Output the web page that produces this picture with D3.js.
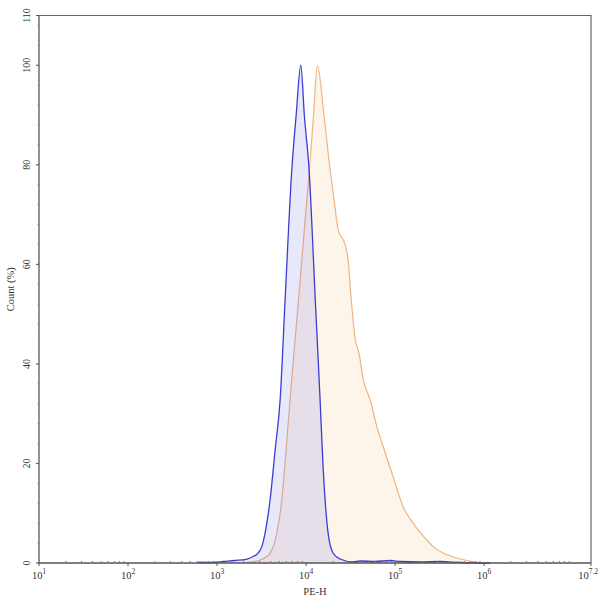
<!DOCTYPE html>
<html>
<head>
<meta charset="utf-8">
<script src="https://d3js.org/d3.v7.min.js"></script>
<style>
  body { margin: 0; background: #fff; }
  text { font-family: "Liberation Serif", "DejaVu Serif", serif; fill: #333; }
</style>
</head>
<body>
<svg id="chart"></svg>
<script>
  var width = 600, height = 602;
  var margin = {left: 39, right: 9, top: 15.5, bottom: 39};

  // PE-H intensity and count (%)
  var controlPE = [612, 733, 950, 1170, 1590, 2170, 2540, 2890, 3210, 3460, 3940, 4490, 5110, 5810,
    6910, 7720, 8720, 9570, 10800, 12680, 14360, 15520, 17670, 20100, 24100, 33700, 40500,
    59600, 87900, 114000, 191000, 321000, 538000, 1170000];
  var controlCount = [0.15, 0.1, 0.15, 0.3, 0.5, 0.8, 1.3, 2.0, 3.5, 6, 12.7, 22.7, 32.8, 52.9,
    79, 89.8, 100, 89.8, 79, 52.9, 32.8, 19.3, 6, 2, 0.8, 0.2, 0.4,
    0.3, 0.5, 0.3, 0.2, 0.3, 0.1, 0];

  var samplePE = [2160, 3040, 3940, 4690, 5340, 5960, 6610, 8220, 10200, 10900, 12100, 13400,
    15900, 18600, 20600, 22900, 27400, 29600, 32100, 35600, 39400, 43700, 52400, 62300, 73300,
    95000, 123000, 159000, 227000, 267000, 346000, 493000, 752000, 902000];
  var sampleCount = [0.1, 0.6, 2.0, 6, 12.7, 22.7, 32.8, 52.9, 73, 79, 89.8, 100,
    89.8, 79, 73, 67, 64, 61, 53, 45, 42, 37, 32.8, 27.4, 23.4,
    17.3, 11.3, 8.0, 4.6, 3.3, 2.0, 1.0, 0.26, 0];

  var yTicks = [0, 20, 40, 60, 80, 100, 110];
  var xExponents = ["1", "2", "3", "4", "5", "6", "7.2"];

  var svg = d3.select("#chart").attr("width", width).attr("height", height);

  var x = d3.scaleLog().domain([10, Math.pow(10, 7.2)]).range([margin.left, width - margin.right]);
  var y = d3.scaleLinear().domain([0, 110]).range([height - margin.bottom, margin.top]);

  var area = d3.area()
    .x(function(d) { return x(d[0]); })
    .y0(y(0))
    .y1(function(d) { return y(d[1]); })
    .curve(d3.curveMonotoneX);
  var line = d3.line()
    .x(function(d) { return x(d[0]); })
    .y(function(d) { return y(d[1]); })
    .curve(d3.curveMonotoneX);

  var sample = d3.zip(samplePE, sampleCount);
  var control = d3.zip(controlPE, controlCount);

  // sample (orange) underneath, control (blue) on top
  svg.append("path").datum(sample).attr("d", area).attr("fill", "#fdf4ea");
  svg.append("path").datum(sample).attr("d", line)
    .attr("fill", "none").attr("stroke", "#f0b482").attr("stroke-width", 1.2);

  svg.append("path").datum(control).attr("d", area).attr("fill", "rgba(90,90,230,0.14)");
  svg.append("path").datum(control).attr("d", line)
    .attr("fill", "none").attr("stroke", "#3c3cd0").attr("stroke-width", 1.3);

  // frame top/right
  svg.append("path")
    .attr("d", "M" + x.range()[0] + "," + y(110) + "H" + x.range()[1] + "V" + y(0))
    .attr("fill", "none").attr("stroke", "#666").attr("stroke-width", 1.2);

  // y axis
  var yAxis = svg.append("g");
  yAxis.append("line")
    .attr("x1", margin.left).attr("x2", margin.left)
    .attr("y1", y(110)).attr("y2", y(0))
    .attr("stroke", "#777").attr("stroke-width", 1.6);
  yAxis.selectAll(".minor").data(d3.range(0, 111, 4))
    .enter().append("line")
    .attr("x1", margin.left - 1.5).attr("x2", margin.left)
    .attr("y1", function(d) { return y(d); }).attr("y2", function(d) { return y(d); })
    .attr("stroke", "#888");
  yAxis.selectAll(".major").data(yTicks)
    .enter().append("line")
    .attr("x1", margin.left - 3).attr("x2", margin.left)
    .attr("y1", function(d) { return y(d); }).attr("y2", function(d) { return y(d); })
    .attr("stroke", "#555");
  yAxis.selectAll("text").data(yTicks)
    .enter().append("text")
    .attr("transform", function(d) { return "translate(30," + y(d) + ") rotate(-90)"; })
    .attr("text-anchor", "middle")
    .attr("font-size", 10)
    .text(function(d) { return d; });

  svg.append("text")
    .attr("transform", "translate(14," + ((y(0) + y(110)) / 2) + ") rotate(-90)")
    .attr("text-anchor", "middle")
    .attr("font-size", 10.5)
    .text("Count  (%)");

  // x axis
  var xAxis = svg.append("g");
  xAxis.append("line")
    .attr("x1", x.range()[0]).attr("x2", x.range()[1])
    .attr("y1", y(0)).attr("y2", y(0))
    .attr("stroke", "#555").attr("stroke-width", 1.6);
  var minorX = [];
  for (var e = 1; e <= 7; e++) {
    for (var m = 2; m <= 9; m++) {
      var v = m * Math.pow(10, e);
      if (v < Math.pow(10, 7.2)) minorX.push(v);
    }
  }
  xAxis.selectAll(".minor").data(minorX)
    .enter().append("line")
    .attr("x1", function(d) { return x(d); }).attr("x2", function(d) { return x(d); })
    .attr("y1", y(0) - 2).attr("y2", y(0))
    .attr("stroke", "#777");
  var xLabels = xAxis.selectAll(".lab").data(xExponents)
    .enter().append("g")
    .attr("transform", function(d) { return "translate(" + x(Math.pow(10, +d)) + ",0)"; });
  xLabels.append("line")
    .attr("y1", y(0)).attr("y2", y(0) + 3)
    .attr("stroke", "#555");
  var lt = xLabels.append("text")
    .attr("y", 579)
    .attr("x", function(d, i) { return i === xExponents.length - 1 ? 7 : 0; })
    .attr("text-anchor", function(d, i) { return i === xExponents.length - 1 ? "end" : "middle"; })
    .attr("font-size", 10.5);
  lt.append("tspan").text("10");
  lt.append("tspan").attr("dy", -5).attr("font-size", 7.5).text(function(d) { return d; });

  svg.append("text")
    .attr("x", (x.range()[0] + x.range()[1]) / 2)
    .attr("y", 595)
    .attr("text-anchor", "middle")
    .attr("font-size", 10.5)
    .text("PE-H");
</script>
</body>
</html>
